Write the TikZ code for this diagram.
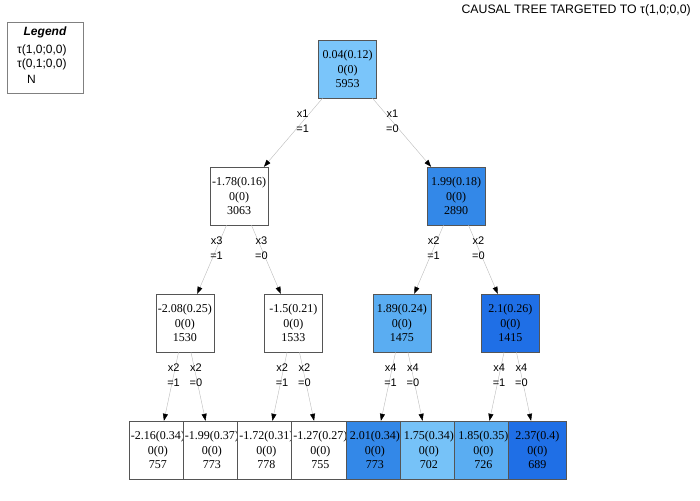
\documentclass[tikz,border=0pt]{standalone}
\usepackage{fontspec}
\setmainfont{Liberation Serif}
\setsansfont{Liberation Sans}
\usetikzlibrary{arrows.meta}

\definecolor{boxgray}{HTML}{555555}
\definecolor{edgegray}{HTML}{BBBBBB}
\definecolor{rootblue}{HTML}{7AC5FA}
\definecolor{paleblue}{HTML}{76C2F8}
\definecolor{midblue}{HTML}{5AADF2}
\definecolor{deepblue}{HTML}{3388E8}
\definecolor{darkblue}{HTML}{1F6FE6}

\tikzset{
  leaf/.style={draw=boxgray,fill=white,minimum width=58pt,minimum height=58pt,inner sep=1pt,align=center,font=\fontsize{12}{14.5}\selectfont},
  split/.style={font=\sffamily\fontsize{11}{15}\selectfont,align=center,pos=0.34,inner sep=0pt},
  legendbox/.style={draw=gray,minimum width=76pt,minimum height=71pt},
  legendtext/.style={font=\sffamily\fontsize{12}{14}\selectfont,anchor=west,inner sep=0pt}
}

\begin{document}
\begin{tikzpicture}[level distance=127pt,
  level 1/.style={sibling distance=217pt},level 2/.style={sibling distance=108.5pt},level 3/.style={sibling distance=54pt},
  edge from parent/.style={draw=edgegray,-{Triangle[length=7pt,width=5pt,color=black]}}]
  \useasboundingbox (0,0) rectangle (700pt,-500pt);

  % legend and title
  \node[legendbox] (legend) at (45pt,-57.5pt) {};
  \node[font=\sffamily\bfseries\itshape\fontsize{12}{14}\selectfont] (legtitle) at (45pt,-32pt) {Legend};
  \node[legendtext] (leg1) at (17pt,-50pt) {τ(1,0;0,0)};
  \node[legendtext] (leg2) at (17pt,-64pt) {τ(0,1;0,0)};
  \node[legendtext] (leg3) at (27pt,-79pt) {N};
  \node[font=\sffamily\fontsize{12.3}{14}\selectfont,anchor=east,inner sep=0pt] (title) at (691pt,-10pt) {CAUSAL TREE TARGETED TO τ(1,0;0,0)};

  \node[leaf,fill=rootblue] (root) at (347.5pt,-69pt) {0.04(0.12)\\0(0)\\5953}
    child {node[leaf] (n1) {-1.78(0.16)\\0(0)\\3063}
      child {node[leaf] (n11) {-2.08(0.25)\\0(0)\\1530}
        child {node[leaf] (n111) {-2.16(0.34)\\0(0)\\757} edge from parent node[split] {x2\\=1}}
        child {node[leaf] (n110) {-1.99(0.37)\\0(0)\\773} edge from parent node[split] {x2\\=0}}
        edge from parent node[split] {x3\\=1}
      }
      child {node[leaf] (n10) {-1.5(0.21)\\0(0)\\1533}
        child {node[leaf] (n101) {-1.72(0.31)\\0(0)\\778} edge from parent node[split] {x2\\=1}}
        child {node[leaf] (n100) {-1.27(0.27)\\0(0)\\755} edge from parent node[split] {x2\\=0}}
        edge from parent node[split] {x3\\=0}
      }
      edge from parent node[split] {x1\\=1}
    }
    child {node[leaf,fill=deepblue] (n0) {1.99(0.18)\\0(0)\\2890}
      child {node[leaf,fill=midblue] (n01) {1.89(0.24)\\0(0)\\1475}
        child {node[leaf,fill=deepblue] (n011) {2.01(0.34)\\0(0)\\773} edge from parent node[split] {x4\\=1}}
        child {node[leaf,fill=paleblue] (n010) {1.75(0.34)\\0(0)\\702} edge from parent node[split] {x4\\=0}}
        edge from parent node[split] {x2\\=1}
      }
      child {node[leaf,fill=darkblue] (n00) {2.1(0.26)\\0(0)\\1415}
        child {node[leaf,fill=midblue] (n001) {1.85(0.35)\\0(0)\\726} edge from parent node[split] {x4\\=1}}
        child {node[leaf,fill=darkblue] (n000) {2.37(0.4)\\0(0)\\689} edge from parent node[split] {x4\\=0}}
        edge from parent node[split] {x2\\=0}
      }
      edge from parent node[split] {x1\\=0}
    };
\end{tikzpicture}
\end{document}
